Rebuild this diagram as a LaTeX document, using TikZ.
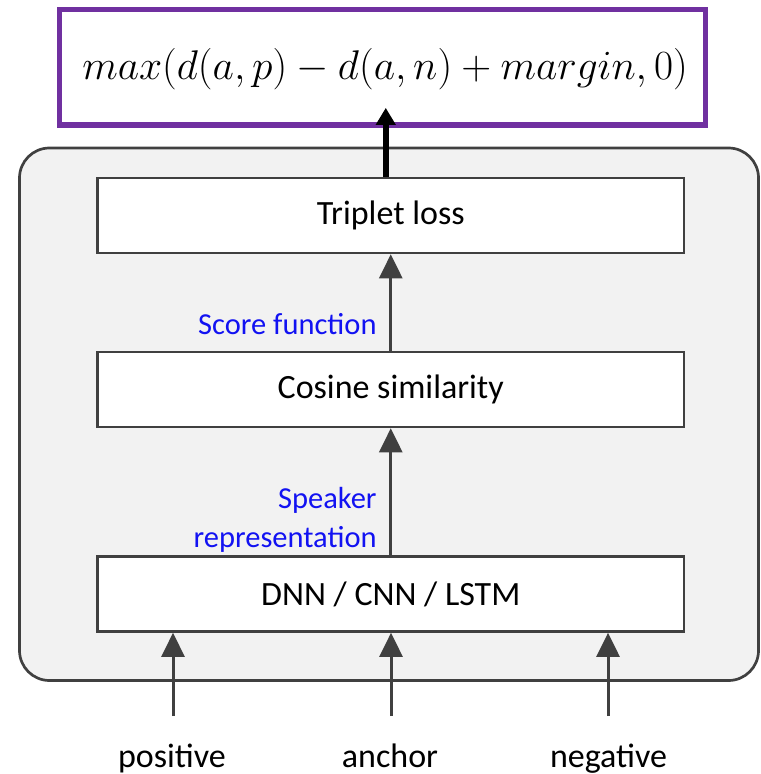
\documentclass[tikz,border=0pt]{standalone}
\usepackage{fontspec}
\newfontfamily\carlito{Carlito}
\usetikzlibrary{arrows.meta}
\definecolor{framepurple}{HTML}{7030A0}
\definecolor{edgegray}{HTML}{404040}
\definecolor{panelgray}{HTML}{F2F2F2}
\definecolor{notelabel}{HTML}{1212F2}
\begin{document}
\begin{tikzpicture}[x=0.5pt,y=-0.5pt,
  layerbox/.style={draw=edgegray,line width=1.35pt,fill=white,
    minimum width=293.25pt,minimum height=37.5pt,inner sep=0pt,
    font=\carlito\fontsize{17}{20}\selectfont},
  flow/.style={draw=edgegray,line width=1.5pt,
    -{Triangle[length=12pt,width=11.5pt]}},
  lossflow/.style={draw=black,line width=3pt,
    -{Triangle[length=8.5pt,width=9.5pt]}},
  note/.style={text=notelabel,inner sep=0pt,anchor=base east,
    font=\carlito\fontsize{15.25}{18}\selectfont},
  inlabel/.style={inner sep=0pt,anchor=base,
    font=\carlito\fontsize{17}{20}\selectfont}]
\useasboundingbox (0,0) rectangle (760,774);

% shared network panel
\draw[rounded corners=15pt,fill=panelgray,draw=edgegray,line width=1.35pt]
  (19.5,148) rectangle (758.5,680.5);

% loss formula
\node[draw=framepurple,line width=2.85pt,minimum width=323pt,
  minimum height=57.75pt,inner sep=0pt] (frame) at (382.5,67.25) {};
\node[inner sep=0pt,anchor=base,font=\fontsize{19.1}{23}\selectfont]
  (formula) at (385,80) {$max(d(a,p)-d(a,n)+margin,0)$};

% layers
\node[layerbox] (triplet) at (390.75,215.5) {Triplet loss};
\node[layerbox] (cosine) at (390.75,389.5) {Cosine similarity};
\node[layerbox] (dnn) at (390.75,594) {DNN / CNN / LSTM};

% inputs
\coordinate (inpos) at (173,716);
\coordinate (inanc) at (391,716);
\coordinate (inneg) at (608,716);
\node[inlabel] (lpos) at (172,767) {positive};
\node[inlabel] (lanc) at (390,767) {anchor};
\node[inlabel] (lneg) at (608.5,767) {negative};

% connectors
\draw[flow] (inpos) -- (inpos |- dnn.south);
\draw[flow] (inanc) -- (inanc |- dnn.south);
\draw[flow] (inneg) -- (inneg |- dnn.south);
\draw[flow] (dnn.north) -- (cosine.south);
\draw[flow] (cosine.north) -- (triplet.south);
\draw[lossflow,shorten >=-10pt] ([xshift=-2.5pt]triplet.north)
  -- ([xshift=-2.5pt]triplet.north |- frame.south);

% edge annotations
\node[note] (score) at (377,335) {Score function};
\node[note] (spk1) at (377,508) {Speaker};
\node[note] (spk2) at (377,547) {representation};
\end{tikzpicture}
\end{document}
